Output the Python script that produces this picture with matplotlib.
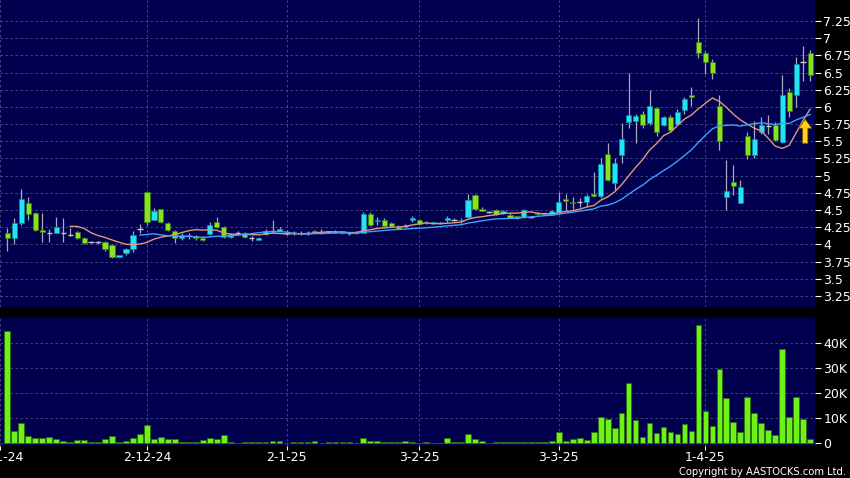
import numpy as np
import pandas as pd
import matplotlib
matplotlib.use("Agg")
import matplotlib.pyplot as plt
from matplotlib.patches import FancyArrow

# daily OHLC (index 0 = first candle)
opens = [4.17, 4.10, 4.31, 4.60, 4.45, 4.21, 4.17, 4.16, 4.17, 4.14,
         4.18, 4.10, 4.03, 4.03, 4.04, 3.99, 3.82, 3.87, 3.94, 4.22,
         4.76, 4.36, 4.51, 4.31, 4.20, 4.09, 4.14, 4.12, 4.10, 4.15,
         4.32, 4.25, 4.11, 4.16, 4.16, 4.09, 4.07, 4.15, 4.19, 4.20,
         4.17, 4.17, 4.17, 4.16, 4.17, 4.18, 4.17, 4.18, 4.19, 4.16,
         4.16, 4.17, 4.44, 4.34, 4.35, 4.31, 4.26, 4.27, 4.35, 4.35,
         4.32, 4.31, 4.31, 4.35, 4.36, 4.35, 4.40, 4.72, 4.52, 4.47,
         4.50, 4.46, 4.43, 4.41, 4.40, 4.40, 4.46, 4.44, 4.44, 4.47,
         4.66, 4.62, 4.61, 4.61, 4.74, 4.70, 5.31, 4.90, 5.30, 5.78,
         5.79, 5.90, 5.76, 5.98, 5.74, 5.86, 5.75, 5.95, 6.18, 6.95,
         6.79, 6.66, 6.02, 4.69, 4.91, 4.60, 5.57, 5.30, 5.63, 5.72,
         5.74, 5.49, 6.22, 6.17, 6.66, 6.78]
highs = [4.24, 4.39, 4.81, 4.69, 4.47, 4.45, 4.23, 4.40, 4.38, 4.24,
         4.20, 4.11, 4.05, 4.05, 4.05, 4.00, 3.85, 3.95, 4.19, 4.30,
         4.76, 4.53, 4.51, 4.32, 4.21, 4.16, 4.17, 4.14, 4.12, 4.33,
         4.40, 4.27, 4.17, 4.19, 4.18, 4.12, 4.11, 4.22, 4.36, 4.26,
         4.21, 4.19, 4.20, 4.19, 4.21, 4.22, 4.20, 4.21, 4.20, 4.18,
         4.20, 4.47, 4.47, 4.40, 4.38, 4.32, 4.28, 4.29, 4.41, 4.37,
         4.34, 4.33, 4.33, 4.42, 4.38, 4.38, 4.74, 4.74, 4.54, 4.49,
         4.51, 4.50, 4.45, 4.42, 4.51, 4.42, 4.47, 4.47, 4.50, 4.76,
         4.74, 4.69, 4.68, 4.73, 5.06, 5.25, 5.47, 5.25, 5.76, 6.50,
         5.89, 5.94, 6.25, 6.00, 5.87, 5.88, 5.97, 6.15, 6.29, 7.29,
         6.82, 6.70, 6.17, 5.23, 5.16, 4.94, 5.64, 5.79, 5.86, 5.88,
         5.78, 6.46, 6.27, 6.73, 6.88, 6.83]
lows = [3.91, 4.01, 4.28, 4.36, 4.19, 4.04, 4.04, 4.16, 4.04, 4.12,
        4.08, 4.00, 4.02, 4.01, 3.91, 3.80, 3.81, 3.85, 3.89, 4.16,
        4.28, 4.35, 4.31, 4.20, 4.02, 4.07, 4.08, 4.07, 4.05, 4.13,
        4.24, 4.09, 4.10, 4.13, 4.10, 4.05, 4.06, 4.14, 4.17, 4.19,
        4.14, 4.14, 4.13, 4.14, 4.16, 4.15, 4.16, 4.16, 4.15, 4.14,
        4.15, 4.16, 4.27, 4.28, 4.26, 4.26, 4.22, 4.25, 4.33, 4.29,
        4.30, 4.30, 4.29, 4.33, 4.34, 4.31, 4.38, 4.50, 4.48, 4.45,
        4.43, 4.44, 4.38, 4.37, 4.39, 4.39, 4.43, 4.43, 4.43, 4.45,
        4.50, 4.51, 4.55, 4.55, 4.69, 4.68, 4.92, 4.79, 5.18, 5.69,
        5.48, 5.70, 5.74, 5.57, 5.72, 5.64, 5.73, 5.89, 6.02, 6.71,
        6.48, 6.41, 5.37, 4.50, 4.72, 4.60, 5.24, 5.26, 5.60, 5.60,
        5.50, 5.47, 5.86, 6.00, 6.37, 6.37]
closes = [4.10, 4.31, 4.66, 4.44, 4.21, 4.18, 4.17, 4.25, 4.17, 4.14,
          4.09, 4.02, 4.03, 4.03, 3.93, 3.82, 3.85, 3.94, 4.13, 4.22,
          4.33, 4.49, 4.32, 4.21, 4.10, 4.14, 4.12, 4.09, 4.06, 4.28,
          4.25, 4.11, 4.15, 4.16, 4.11, 4.09, 4.10, 4.20, 4.19, 4.23,
          4.17, 4.17, 4.15, 4.16, 4.20, 4.18, 4.19, 4.18, 4.16, 4.16,
          4.18, 4.44, 4.28, 4.36, 4.27, 4.27, 4.23, 4.27, 4.38, 4.30,
          4.33, 4.32, 4.31, 4.39, 4.36, 4.36, 4.65, 4.52, 4.49, 4.47,
          4.44, 4.49, 4.39, 4.38, 4.50, 4.40, 4.44, 4.46, 4.49, 4.62,
          4.63, 4.60, 4.61, 4.70, 4.70, 5.17, 4.94, 5.19, 5.54, 5.88,
          5.87, 5.73, 6.01, 5.63, 5.85, 5.67, 5.93, 6.12, 6.14, 6.79,
          6.66, 6.50, 5.51, 4.78, 4.85, 4.84, 5.30, 5.54, 5.74, 5.72,
          5.52, 6.17, 5.94, 6.62, 6.66, 6.46]
# volume in thousands of shares
volumes = [44.9, 5.0, 8.0, 2.9, 2.2, 2.0, 2.4, 1.6, 0.9, 0.4,
           1.3, 1.3, 0.4, 0.6, 1.7, 3.1, 0.6, 0.9, 2.0, 3.7,
           7.3, 1.7, 2.4, 1.6, 1.7, 0.7, 0.5, 0.7, 1.3, 2.0,
           1.7, 3.2, 0.5, 0.2, 0.4, 0.6, 0.4, 0.4, 1.0, 0.9,
           0.3, 0.6, 0.7, 0.7, 1.1, 0.2, 0.6, 0.6, 0.6, 0.5,
           0.2, 2.0, 0.9, 0.9, 0.6, 0.6, 0.5, 0.8, 0.6, 0.3,
           0.4, 0.3, 0.3, 2.3, 0.7, 0.6, 3.7, 1.6, 0.8, 0.2,
           0.6, 0.7, 0.4, 0.5, 0.6, 0.5, 0.6, 0.7, 0.9, 4.7,
           0.9, 1.7, 2.2, 1.3, 4.4, 10.7, 9.9, 6.3, 12.3, 24.0,
           9.3, 2.4, 8.0, 4.3, 6.7, 4.4, 3.7, 7.6, 4.9, 47.2,
           13.1, 6.9, 29.7, 18.1, 8.7, 4.7, 18.5, 12.3, 8.0, 5.3,
           3.3, 37.6, 10.7, 18.7, 9.6, 1.9]

date_ticks = [-1, 20, 40, 59, 79, 100]
date_labels = ["1-11-24", "2-12-24", "2-1-25", "3-2-25", "3-3-25", "1-4-25"]
price_ticks = np.arange(3.25, 7.26, 0.25)
vol_ticks = [0, 10, 20, 30, 40]

df = pd.DataFrame({"open": opens, "high": highs, "low": lows,
                   "close": closes, "vol": volumes})
df["ma10"] = df["close"].rolling(10).mean()
df["ma20"] = df["close"].rolling(20).mean()
x = np.arange(len(df))

BG = "#00004e"
UP = "#22e4f4"
DOWN = "#84e41e"
FLAT = "#c8c8c8"
WICK = "#a8a8b8"
GRID = "#4e4e88"

fig = plt.figure(figsize=(8.5, 4.78), dpi=100, facecolor="black")
ax = fig.add_axes([0, 1 - 307 / 478, 815 / 850, 307 / 478], facecolor=BG)
axv = fig.add_axes([0, 1 - 446 / 478, 815 / 850, 128 / 478], facecolor=BG)

# candles
ax.vlines(x, df["low"], df["high"], color=WICK, lw=0.9, zorder=2)
up = df["close"] > df["open"]
dn = df["close"] < df["open"]
fl = df["close"] == df["open"]
ax.bar(x[up], (df["close"] - df["open"])[up], bottom=df["open"][up],
       width=0.74, color=UP, edgecolor="#0a8fa0", lw=0.5, zorder=3)
ax.bar(x[dn], (df["open"] - df["close"])[dn], bottom=df["close"][dn],
       width=0.74, color=DOWN, edgecolor="#3c7a10", lw=0.5, zorder=3)
ax.hlines(df["close"][fl], x[fl] - 0.38, x[fl] + 0.38, color=FLAT, lw=1.0, zorder=3)

# moving averages
ax.plot(x, df["ma10"], color="#e4967a", lw=1.0, zorder=4)
ax.plot(x, df["ma20"], color="#3aa2ff", lw=1.0, zorder=4)

# signal arrow
ax.add_patch(FancyArrow(114.3, 5.47, 0, 0.22, width=0.75, head_width=1.9,
                        head_length=0.13, length_includes_head=False,
                        facecolor="#ffd21e", edgecolor="#7a5a00", lw=0.6, zorder=5))

ax.set_xlim(-1.05, 115.7)
ax.set_ylim(3.09, 7.555)
ax.set_yticks(price_ticks)
ax.set_yticklabels([f"{v:g}" for v in price_ticks])
ax.set_xticks(date_ticks)
ax.tick_params(axis="x", length=0, labelbottom=False)
ax.yaxis.tick_right()
ax.tick_params(axis="y", colors="white", length=4, pad=2, labelsize=9)
ax.grid(True, color=GRID, lw=0.6, ls=(0, (3, 3)))

# volume
axv.bar(x, df["vol"], width=0.82, color="#6cf218", edgecolor="#2e6a00", lw=0.5, zorder=3)
axv.set_xlim(-1.05, 115.7)
axv.set_ylim(-1.1, 50.1)
axv.set_yticks(vol_ticks)
axv.set_yticklabels([f"{v}K" if v else "0" for v in vol_ticks])
axv.yaxis.tick_right()
axv.tick_params(axis="y", colors="white", length=4, pad=2, labelsize=9)
axv.set_xticks(date_ticks)
axv.set_xticklabels(date_labels)
axv.tick_params(axis="x", colors="white", length=3, pad=0.5, labelsize=9)
axv.grid(True, color=GRID, lw=0.6, ls=(0, (3, 3)))

for a in (ax, axv):
    for s in a.spines.values():
        s.set_visible(False)
    a.set_axisbelow(True)

fig.text(0.995, 0.002, "Copyright by AASTOCKS.com Ltd.", color="white",
         fontsize=7.2, ha="right", va="bottom")

fig.savefig("out.png", dpi=100, facecolor="black")
